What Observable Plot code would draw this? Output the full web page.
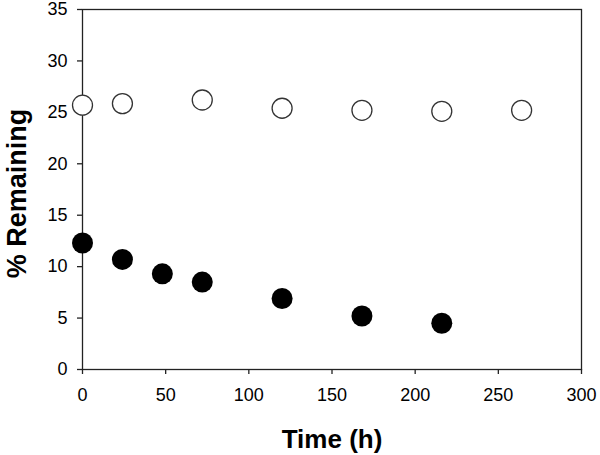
<!DOCTYPE html>
<html>
<head>
<meta charset="utf-8">
<script src="https://cdn.jsdelivr.net/npm/d3@7"></script>
<script src="https://cdn.jsdelivr.net/npm/@observablehq/plot@0.6"></script>
<style>
  html, body { margin: 0; padding: 0; background: #fff; }
</style>
</head>
<body>
<div id="chart"></div>
<script>
const timesOpen = [0, 24, 72, 120, 168, 216, 264];
const valuesOpen = [25.7, 25.85, 26.2, 25.4, 25.2, 25.1, 25.2];
const timesFilled = [0, 24, 48, 72, 120, 168, 216];
const valuesFilled = [12.3, 10.7, 9.3, 8.5, 6.9, 5.2, 4.5];
const xTicks = [0, 50, 100, 150, 200, 250, 300];
const yTicks = [0, 5, 10, 15, 20, 25, 30, 35];
const xTitle = "Time (h)";
const yTitle = "% Remaining";

const openData = timesOpen.map((t, i) => ({time: t, value: valuesOpen[i]}));
const filledData = timesFilled.map((t, i) => ({time: t, value: valuesFilled[i]}));

const chart = Plot.plot({
  width: 600,
  height: 455,
  marginLeft: 82,
  marginRight: 19,
  marginTop: 9,
  marginBottom: 86,
  style: {fontFamily: "'Liberation Sans', Arial, sans-serif", background: "#fff", color: "#000"},
  x: {domain: [0, 300]},
  y: {domain: [0, 35]},
  marks: [
    Plot.frame({stroke: "#222", strokeWidth: 1.3}),
    Plot.axisX({ticks: xTicks, tickSize: 5, tickPadding: 14, fontSize: 18, label: null, stroke: "#222", strokeWidth: 1.3}),
    Plot.axisY({ticks: yTicks, tickSize: 5, tickPadding: 10, fontSize: 18, label: null, stroke: "#222", strokeWidth: 1.3}),
    Plot.text([xTitle], {frameAnchor: "bottom", textAnchor: "middle", lineAnchor: "bottom", dy: 78, fontSize: 26, fontWeight: "bold", fill: "#000"}),
    Plot.text([yTitle], {frameAnchor: "left", textAnchor: "middle", lineAnchor: "middle", dx: -65, dy: 4, rotate: -90, fontSize: 27, fontWeight: "bold", fill: "#000"}),
    Plot.dot(openData, {x: "time", y: "value", r: 10, fill: "#fff", stroke: "#333", strokeWidth: 1.3}),
    Plot.dot(filledData, {x: "time", y: "value", r: 10.5, fill: "#000", stroke: "none"})
  ]
});
document.getElementById("chart").appendChild(chart);
</script>
</body>
</html>
